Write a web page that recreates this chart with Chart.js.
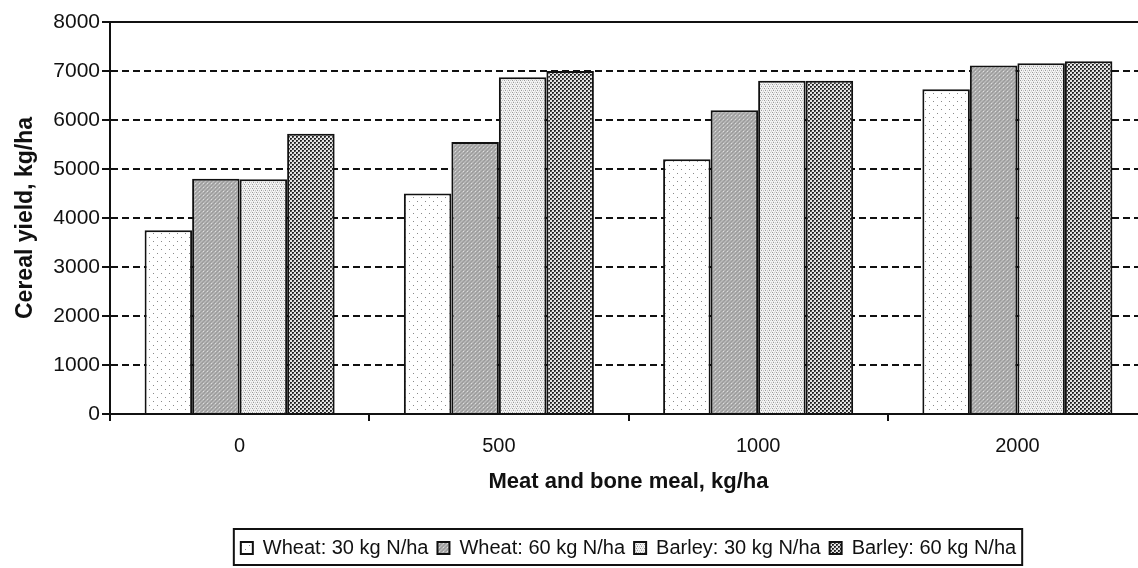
<!DOCTYPE html>
<html><head><meta charset="utf-8">
<script src="https://cdn.jsdelivr.net/npm/chart.js@4"></script>
<style>
html,body{margin:0;padding:0;overflow:hidden;background:#fff;width:1138px;height:568px}
#wrap{position:absolute;left:0;top:0;width:1180px;height:568px}
</style></head><body><div id="wrap"><canvas id="c"></canvas></div>
<script>
const categories = ['0', '500', '1000', '2000'];
const seriesNames = ['Wheat: 30 kg N/ha', 'Wheat: 60 kg N/ha', 'Barley: 30 kg N/ha', 'Barley: 60 kg N/ha'];
const wheat30 = [3750, 4500, 5200, 6630];
const wheat60 = [4800, 5550, 6200, 7110];
const barley30 = [4790, 6870, 6800, 7160];
const barley60 = [5720, 7000, 6800, 7200];
const yMin = 0, yMax = 8000, yStep = 1000;
const xTitle = 'Meat and bone meal, kg/ha';
const yTitle = 'Cereal yield, kg/ha';

const FONT = "'Liberation Sans', Arial, sans-serif";
Chart.defaults.font.family = FONT;
Chart.defaults.color = '#111';

const ctx = document.getElementById('c').getContext('2d');
function tile(size, bg, pix) {
  const c = document.createElement('canvas');
  c.width = size; c.height = size;
  const x = c.getContext('2d');
  x.fillStyle = bg; x.fillRect(0, 0, size, size);
  pix.forEach(p => { x.fillStyle = p[2]; x.fillRect(p[0], p[1], 1, 1); });
  return ctx.createPattern(c, 'repeat');
}
// light sparse dots
const pW30 = tile(8, '#ffffff', [[1,1,'#8a8a8a'],[5,5,'#8a8a8a']]);
// medium gray textured
const pW60 = tile(4, '#acacac', [[0,0,'#999999'],[2,0,'#bdbdbd'],[1,1,'#bdbdbd'],[3,1,'#9c9c9c'],[0,2,'#bdbdbd'],[2,2,'#999999'],[1,3,'#9c9c9c'],[3,3,'#dedede']]);
// light stipple
const pB30 = tile(4, '#f4f4f4', [[0,0,'#9a9a9a'],[2,0,'#c8c8c8'],[1,2,'#9a9a9a'],[3,2,'#c8c8c8'],[1,1,'#dddddd'],[3,3,'#dddddd']]);
// dark checker stipple
const pB60 = tile(4, '#e4e4e4', [[0,0,'#1e1e1e'],[1,0,'#2c2c2c'],[0,1,'#3a3a3a'],[2,2,'#1e1e1e'],[3,2,'#2c2c2c'],[2,3,'#3a3a3a'],[1,1,'#707070'],[3,3,'#707070']]);

const seriesValues = [wheat30, wheat60, barley30, barley60];
const fills = [pW30, pW60, pB30, pB60];

const legendFrame = {
  id: 'legendFrame',
  afterLayout(chart) {
    const lg = chart.legend, ca = chart.chartArea;
    lg.left = ca.left; lg.right = ca.right; lg.width = ca.right - ca.left;
  },
  afterDraw(chart) {
    const hb = chart.legend.legendHitBoxes;
    if (!hb || !hb.length) return;
    const l = hb[0].left - 7;
    const r = hb[hb.length - 1].left + hb[hb.length - 1].width + 6;
    const t = hb[0].top - 9;
    const b = hb[0].top + hb[0].height + 7;
    const c = chart.ctx;
    c.save();
    c.strokeStyle = '#111'; c.lineWidth = 2;
    c.strokeRect(l, t, r - l, b - t);
    c.restore();
  }
};

new Chart(ctx, {
  type: 'bar',
  data: {
    labels: categories,
    datasets: seriesNames.map((n, i) => ({
      label: n,
      data: seriesValues[i],
      backgroundColor: fills[i],
      borderColor: '#111',
      borderWidth: 2,
      categoryPercentage: 0.733,
      barPercentage: 1.0
    }))
  },
  options: {
    responsive: true,
    maintainAspectRatio: false,
    animation: false,
    layout: { padding: { top: 22, right: 33, left: 0, bottom: 0 } },
    plugins: {
      tooltip: { enabled: false },
      legend: {
        position: 'bottom',
        labels: { boxWidth: 12, boxHeight: 12, padding: 9, font: { size: 20, family: FONT }, color: '#111' }
      }
    },
    scales: {
      x: {
        afterFit: s => { s.height = 115; },
        grid: { display: true, drawOnChartArea: false, drawTicks: true, tickLength: 7, color: '#111', lineWidth: 2, tickColor: '#111', tickWidth: 2 },
        border: { color: '#111', width: 2 },
        ticks: { padding: 13, font: { size: 20 }, color: '#111' },
        title: { display: true, text: xTitle, font: { size: 22, weight: 'bold' }, padding: { top: 4, bottom: 34 }, color: '#111' }
      },
      y: {
        min: yMin, max: yMax,
        afterFit: s => { s.width = 110; },
        ticks: { stepSize: yStep, padding: 2, font: { size: 21 }, color: '#111', callback: v => String(v) },
        grid: { color: '#111', lineWidth: 2, tickLength: 8, tickBorderDash: [], tickColor: '#111', tickWidth: 2 },
        border: { color: '#111', width: 2, dash: c => (c.tick && c.tick.value === yMax) ? [] : [7, 4] },
        title: { display: true, text: yTitle, font: { size: 23, weight: 'bold' }, padding: { top: 12, bottom: 0 }, color: '#111' }
      }
    }
  },
  plugins: [legendFrame]
});
</script></body></html>
